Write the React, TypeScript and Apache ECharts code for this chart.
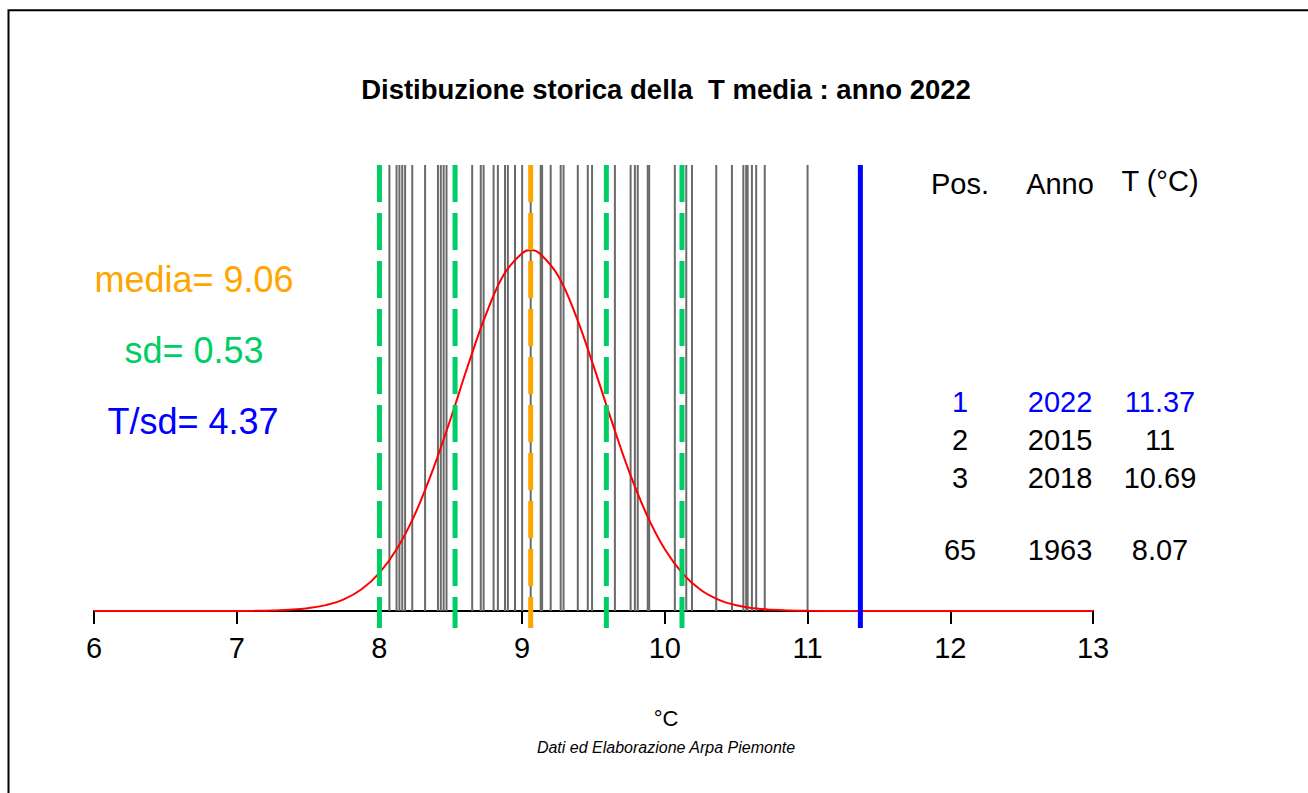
import React, { useEffect, useRef } from "react";
import * as echarts from "echarts";

// Yearly mean temperatures (°C)
const yearTemps: number[] = [
  8.07, 8.12, 8.14, 8.16, 8.18, 8.23, 8.32, 8.41, 8.43, 8.45, 8.47,
  8.65, 8.71, 8.73, 8.8, 8.83, 8.88, 8.9, 8.95, 9.0, 9.06, 9.13, 9.14,
  9.2, 9.27, 9.29, 9.39, 9.46, 9.49, 9.65, 9.76, 9.79, 9.81, 9.88, 9.89,
  10.07, 10.15, 10.19, 10.36, 10.47, 10.55, 10.57, 10.58, 10.61, 10.64,
  10.7, 11.0,
];

const mediaValue = 9.06;
const sdValue = 0.53;
const tsdValue = 4.37;
const currentTemp = 11.37;
const sdLines: number[] = [8.0, 8.53, 9.59, 10.12];

// Fitted curve
const curveX: number[] = [
  6.0, 6.5, 6.75, 7.0, 7.125, 7.25, 7.375, 7.5, 7.625, 7.75, 7.875, 8.0, 8.125,
  8.25, 8.375, 8.5, 8.625, 8.75, 8.875, 9.0, 9.06, 9.125, 9.25, 9.375, 9.5,
  9.625, 9.75, 9.875, 10.0, 10.125, 10.25, 10.375, 10.5, 10.625, 10.75, 10.875,
  11.0, 11.25, 11.5, 12.0, 13.0,
];
const curveY: number[] = [
  0, 0, 0, 0.0002, 0.0004, 0.0011, 0.0026, 0.0058, 0.0123, 0.0243, 0.0454,
  0.0796, 0.131, 0.2026, 0.295, 0.402, 0.516, 0.621, 0.703, 0.746, 0.7527,
  0.745, 0.7, 0.617, 0.511, 0.398, 0.2905, 0.1995, 0.1286, 0.078, 0.0443,
  0.0237, 0.0119, 0.0056, 0.0025, 0.001, 0.0004, 0.0001, 0, 0, 0,
];

const xTicks: number[] = [6, 7, 8, 9, 10, 11, 12, 13];

// Ranking table
const tableHeader: string[] = ["Pos.", "Anno", "T (°C)"];
const tablePos: string[] = ["1", "2", "3", "65"];
const tableYear: string[] = ["2022", "2015", "2018", "1963"];
const tableTemp: string[] = ["11.37", "11", "10.69", "8.07"];

const Y_MAX = 0.93;
const FONT = "'Liberation Sans', Arial, Helvetica, sans-serif";
const GREEN = "#00CD66";
const ORANGE = "#FFA500";
const BLUE = "#0000FF";

function vline(values: number[], color: string, width: number, ext: number, dash: number[] | null, z: number) {
  return {
    type: "custom",
    z,
    silent: true,
    clip: false,
    data: values.map((v) => [v]),
    renderItem: (params: any, api: any) => {
      const x = api.value(0);
      const top = api.coord([x, Y_MAX]);
      const bot = api.coord([x, 0]);
      return {
        type: "line",
        shape: { x1: top[0], y1: top[1], x2: bot[0], y2: bot[1] + ext },
        style: { stroke: color, lineWidth: width, lineDash: dash || undefined, fill: null },
      };
    },
  };
}

export default function App() {
  const ref = useRef<HTMLDivElement>(null);
  useEffect(() => {
    if (!ref.current) return;
    const chart = echarts.init(ref.current, null, { renderer: "svg" });

    const colX = [960, 1060, 1160];
    const rowY = [402, 440, 478, 550];
    const tableTexts: any[] = [];
    tableHeader.forEach((h, i) => {
      tableTexts.push({
        type: "text",
        x: colX[i],
        y: i === 2 ? 181 : 184,
        style: { text: h, fontSize: 29, fontFamily: FONT, fill: "#000", align: "center", verticalAlign: "middle" },
      });
    });
    tablePos.forEach((p, r) => {
      const color = r === 0 ? BLUE : "#000";
      [p, tableYear[r], tableTemp[r]].forEach((t, c) => {
        tableTexts.push({
          type: "text",
          x: colX[c],
          y: rowY[r],
          style: { text: t, fontSize: 29, fontFamily: FONT, fill: color, align: "center", verticalAlign: "middle" },
        });
      });
    });

    chart.setOption({
      animation: false,
      backgroundColor: "#fff",
      grid: { left: 94, right: 215, top: 165, bottom: 182 },
      xAxis: {
        type: "value",
        min: 6,
        max: 13,
        interval: 1,
        axisLine: { show: true, onZero: false, lineStyle: { color: "#000", width: 2 } },
        axisTick: { show: true, length: 13, lineStyle: { color: "#000", width: 2 } },
        axisLabel: {
          color: "#000",
          fontSize: 29,
          fontFamily: FONT,
          margin: 22,
          formatter: (v: number) => (xTicks.includes(v) ? String(v) : ""),
        },
        splitLine: { show: false },
      },
      yAxis: { type: "value", min: 0, max: Y_MAX, show: false },
      series: [
        vline(yearTemps, "#6a6a6a", 2, 0, null, 1),
        {
          type: "line",
          z: 3,
          data: curveX.map((x, i) => [x, curveY[i]]),
          smooth: 0.4,
          showSymbol: false,
          lineStyle: { color: "#FF0000", width: 2 },
          silent: true,
        },
        vline(sdLines, GREEN, 5, 17, [37, 11], 4),
        vline([mediaValue], ORANGE, 5, 17, [37, 11], 4),
        vline([currentTemp], BLUE, 5, 17, null, 4),
      ],
      graphic: [
        {
          type: "rect",
          shape: { x: 8.5, y: 10.3, width: 1400, height: 900 },
          style: { fill: null, stroke: "#000", lineWidth: 2 },
          silent: true,
        },
        {
          type: "text",
          x: 666,
          y: 89,
          style: {
            text: "Distibuzione storica della  T media : anno 2022",
            fontSize: 27.5,
            fontWeight: "bold",
            fontFamily: FONT,
            fill: "#000",
            align: "center",
            verticalAlign: "middle",
          },
        },
        {
          type: "text",
          x: 194,
          y: 279,
          style: { text: "media= " + mediaValue.toFixed(2), fontSize: 36, fontFamily: FONT, fill: ORANGE, align: "center", verticalAlign: "middle" },
        },
        {
          type: "text",
          x: 194,
          y: 350,
          style: { text: "sd= " + sdValue.toFixed(2), fontSize: 36, fontFamily: FONT, fill: GREEN, align: "center", verticalAlign: "middle" },
        },
        {
          type: "text",
          x: 193,
          y: 421,
          style: { text: "T/sd= " + tsdValue.toFixed(2), fontSize: 36, fontFamily: FONT, fill: BLUE, align: "center", verticalAlign: "middle" },
        },
        ...tableTexts,
        {
          type: "text",
          x: 666,
          y: 718,
          style: { text: "°C", fontSize: 22, fontFamily: FONT, fill: "#000", align: "center", verticalAlign: "middle" },
        },
        {
          type: "text",
          x: 666,
          y: 747,
          style: {
            text: "Dati ed Elaborazione Arpa Piemonte",
            fontSize: 16,
            fontStyle: "italic",
            fontFamily: FONT,
            fill: "#000",
            align: "center",
            verticalAlign: "middle",
          },
        },
      ],
    });
    return () => chart.dispose();
  }, []);

  return (
    <div
      ref={ref}
      style={{ position: "fixed", left: 0, top: 0, width: 1308, height: 793 }}
    />
  );
}
